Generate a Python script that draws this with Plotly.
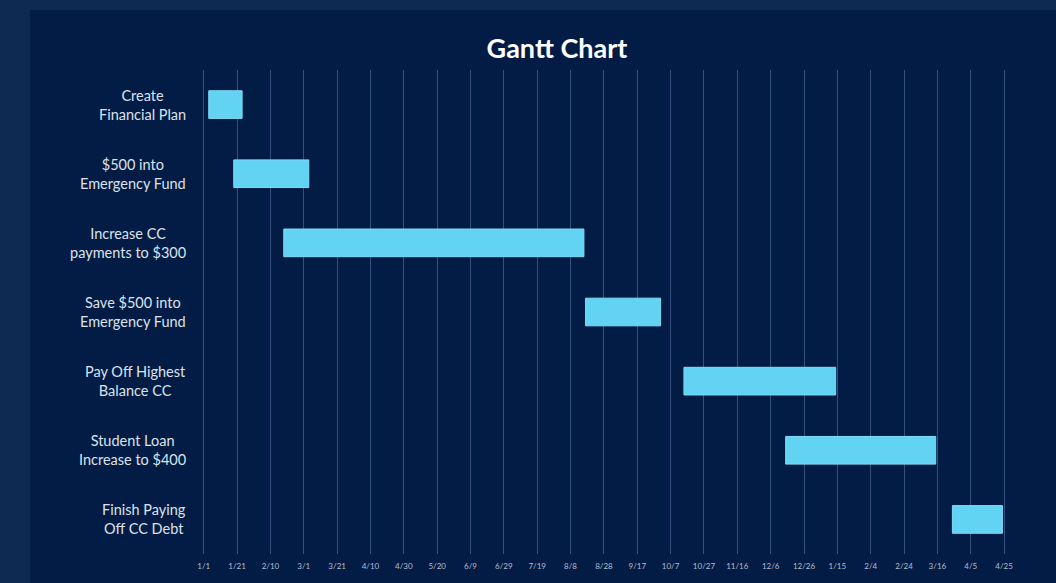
import pandas as pd
import plotly.graph_objects as go

# ---- data ----
tasks = [
    "Create<br>Financial Plan",
    "$500 into<br>Emergency Fund",
    "Increase CC<br>payments to $300",
    "Save $500 into<br>Emergency Fund",
    "Pay Off Highest<br>Balance CC",
    "Student Loan<br>Increase to $400",
    "Finish Paying<br>Off CC Debt",
]
start_dates = ["2024-01-04", "2024-01-19", "2024-02-18", "2024-08-17",
               "2024-10-15", "2024-12-15", "2025-03-25"]
end_dates = ["2024-01-24", "2024-03-04", "2024-08-16", "2024-10-01",
             "2025-01-14", "2025-03-15", "2025-04-24"]
tick_dates = ["2024-01-01", "2024-01-21", "2024-02-10", "2024-03-01", "2024-03-21",
              "2024-04-10", "2024-04-30", "2024-05-20", "2024-06-09", "2024-06-29",
              "2024-07-19", "2024-08-08", "2024-08-28", "2024-09-17", "2024-10-07",
              "2024-10-27", "2024-11-16", "2024-12-06", "2024-12-26", "2025-01-15",
              "2025-02-04", "2025-02-24", "2025-03-16", "2025-04-05", "2025-04-25"]
tick_labels = ["1/1", "1/21", "2/10", "3/1", "3/21", "4/10", "4/30", "5/20", "6/9",
               "6/29", "7/19", "8/8", "8/28", "9/17", "10/7", "10/27", "11/16",
               "12/6", "12/26", "1/15", "2/4", "2/24", "3/16", "4/5", "4/25"]

durations_ms = [
    (pd.Timestamp(e) - pd.Timestamp(s)).total_seconds() * 1000
    for s, e in zip(start_dates, end_dates)
]

OUTER = "#0e2a52"
PANEL = "#021c46"
BAR = "#63d3f3"
GRID = "#34507e"

fig = go.Figure()
fig.add_trace(go.Bar(
    y=list(range(len(tasks))),
    base=start_dates,
    x=durations_ms,
    orientation="h",
    width=0.4,
    marker=dict(color=BAR, line=dict(color="#7fdcf6", width=1)),
    hoverinfo="skip",
))

L, R, T, B = 200, 49, 70, 29
W, H = 1056, 583
pw = W - L - R
ph = H - T - B

annotations = []
for i, t in enumerate(tasks):
    annotations.append(dict(
        x=(187.5 - L) / pw, xref="paper", y=i, yref="y",
        text=t, showarrow=False, xanchor="right", yanchor="middle",
        align="center", font=dict(family="Lato", size=14.5, color="#dde2ea"),
    ))

x_left = (0 - L) / pw
x_panel = (30 - L) / pw
x_right = (W - L) / pw
y_top = 1 + T / ph
y_panel = 1 + (T - 10) / ph
y_bot = -B / ph
shapes = [
    dict(type="rect", xref="paper", yref="paper", layer="below",
         x0=x_left, x1=x_right, y0=y_panel, y1=y_top,
         fillcolor=OUTER, line=dict(width=0)),
    dict(type="rect", xref="paper", yref="paper", layer="below",
         x0=x_left, x1=x_panel, y0=y_bot, y1=y_panel,
         fillcolor=OUTER, line=dict(width=0)),
]

fig.update_layout(
    width=W, height=H,
    margin=dict(l=L, r=R, t=T, b=B, pad=0),
    paper_bgcolor=PANEL,
    plot_bgcolor=PANEL,
    showlegend=False,
    title=dict(text="<b>Gantt Chart</b>", x=557 / W, xanchor="center",
               y=1 - 49 / H, yanchor="middle", yref="container",
               font=dict(family="Lato", size=27, color="#ffffff")),
    xaxis=dict(
        type="date",
        range=["2023-12-29 18:00", "2025-04-26 18:00"],
        tickvals=tick_dates, ticktext=tick_labels,
        showgrid=True, gridcolor=GRID, gridwidth=1,
        zeroline=False, showline=False, ticks="",
        tickfont=dict(family="Lato", size=8, color="#b4bfd0"),
        ticklabelstandoff=6,
    ),
    yaxis=dict(
        range=[6.5, -0.5], showgrid=False, zeroline=False,
        showticklabels=False, ticks="", showline=False,
    ),
    annotations=annotations,
    shapes=shapes,
)

fig.write_html("out.html")
